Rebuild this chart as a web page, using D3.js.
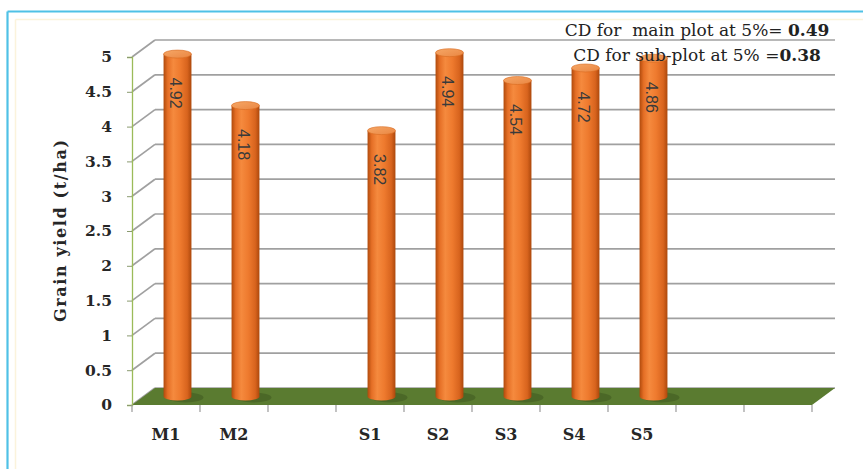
<!DOCTYPE html>
<html>
<head>
<meta charset="utf-8">
<script src="https://cdn.jsdelivr.net/npm/d3@7"></script>
<style>
  html, body { margin: 0; padding: 0; background: #ffffff; }
  svg { display: block; }
</style>
</head>
<body>
<svg id="chart" width="863" height="469"></svg>
<script>
// ---- data ----
const categories = ["M1", "M2", "", "S1", "S2", "S3", "S4", "S5", "", ""];
const yieldValues = [4.92, 4.18, null, 3.82, 4.94, 4.54, 4.72, 4.86, null, null];
const yTicks = [0, 0.5, 1, 1.5, 2, 2.5, 3, 3.5, 4, 4.5, 5];
const yTitle = "Grain yield (t/ha)";
const cdLines = [
  { text: "CD for  main plot at 5%= ", value: "0.49" },
  { text: "CD for sub-plot at 5% =", value: "0.38" }
];

// ---- layout ----
const W = 863, H = 469;
const pLeft = 132, pRight = 812, pBottom = 405, pTop = 57;
const depthX = 23, depthY = -17;

const svg = d3.select("#chart");

// frame
svg.append("line").attr("x1", 7.5).attr("y1", 11.5).attr("x2", W).attr("y2", 11.5)
  .attr("stroke", "#4fc1e6").attr("stroke-width", 2.2);
svg.append("line").attr("x1", 7.5).attr("y1", 11.5).attr("x2", 7.5).attr("y2", H)
  .attr("stroke", "#4fc1e6").attr("stroke-width", 2.2);
svg.append("line").attr("x1", 15.5).attr("y1", 19.5).attr("x2", W).attr("y2", 19.5)
  .attr("stroke", "#fbf3dc").attr("stroke-width", 1.5);
svg.append("line").attr("x1", 15.5).attr("y1", 19.5).attr("x2", 15.5).attr("y2", H)
  .attr("stroke", "#fbf3dc").attr("stroke-width", 1.5);

const idx = d3.range(categories.length);
const x = d3.scaleBand().domain(idx).range([pLeft, pRight])
  .paddingInner(0.59).paddingOuter(0.295);
const y = d3.scaleLinear().domain([0, 5]).range([pBottom, pTop]);
const step = x.step();

// gridlines (back wall + side wall diagonals)
const grid = svg.append("g");
yTicks.forEach(t => {
  const yy = y(t);
  grid.append("line")
    .attr("x1", pLeft).attr("y1", yy).attr("x2", pLeft + depthX).attr("y2", yy + depthY)
    .attr("stroke", "#a0a0a0").attr("stroke-width", 1.7);
  grid.append("line")
    .attr("x1", pLeft + depthX).attr("y1", yy + depthY)
    .attr("x2", pRight + depthX).attr("y2", yy + depthY)
    .attr("stroke", "#a0a0a0").attr("stroke-width", 1.7);
});

// floor
svg.append("path")
  .attr("d", `M${pLeft},${y(0)} L${pRight},${y(0)} L${pRight + depthX},${y(0) + depthY} L${pLeft + depthX},${y(0) + depthY} Z`)
  .attr("fill", "#5a7b30");

// front y axis
const yAxis = d3.axisLeft(y).tickValues(yTicks).tickSize(5).tickPadding(15)
  .tickFormat(d3.format("~g"));
const gy = svg.append("g").attr("transform", `translate(${pLeft},0)`).call(yAxis);
gy.select(".domain").attr("stroke", "#9bbb59").attr("stroke-width", 1.3);
gy.selectAll(".tick line").attr("stroke", "#8a9a70");
gy.selectAll(".tick text")
  .attr("font-family", "DejaVu Serif").attr("font-weight", "bold")
  .attr("font-size", 15.5).attr("fill", "#262626");

// x axis ticks at category boundaries
const boundaries = d3.range(categories.length + 1).map(i => pLeft + i * step);
svg.append("g").selectAll("line").data(boundaries).join("line")
  .attr("x1", d => d).attr("x2", d => d)
  .attr("y1", pBottom).attr("y2", pBottom + 7)
  .attr("stroke", "#9a9a9a").attr("stroke-width", 1.2);

// x axis labels
const xAxis = d3.axisBottom(x).tickSize(0).tickPadding(24)
  .tickFormat(i => categories[i]);
const gx = svg.append("g").attr("transform", `translate(0,${pBottom})`).call(xAxis);
gx.select(".domain").remove();
gx.selectAll(".tick text")
  .attr("font-family", "DejaVu Serif").attr("font-weight", "bold")
  .attr("font-size", 16).attr("fill", "#262626");

// gradients
const defs = svg.append("defs");
const gBody = defs.append("linearGradient").attr("id", "cylBody")
  .attr("x1", "0").attr("x2", "1").attr("y1", "0").attr("y2", "0");
[["0%", "#b04a0c"], ["15%", "#e56f26"], ["35%", "#f58a3e"], ["60%", "#ee7a2e"], ["85%", "#d8641e"], ["100%", "#ac480c"]]
  .forEach(([o, c]) => gBody.append("stop").attr("offset", o).attr("stop-color", c));
const gTop = defs.append("linearGradient").attr("id", "cylTop")
  .attr("x1", "0").attr("x2", "1").attr("y1", "0").attr("y2", "1");
[["0%", "#f6a766"], ["100%", "#ea8642"]]
  .forEach(([o, c]) => gTop.append("stop").attr("offset", o).attr("stop-color", c));

// cylinders
const rx = x.bandwidth() / 2, ry = 4;
const bars = svg.append("g");
idx.forEach(i => {
  const v = yieldValues[i];
  if (v == null) return;
  const cx = x(i) + rx + depthX / 2;
  const yb = y(0) + depthY / 2;
  const yt = y(v) + depthY / 2;
  bars.append("ellipse").attr("cx", cx + 8).attr("cy", yb + 1).attr("rx", rx + 4).attr("ry", ry + 1)
    .attr("fill", "#3f5a20").attr("opacity", 0.55);
  bars.append("path")
    .attr("d", `M${cx - rx},${yt} L${cx - rx},${yb} A${rx},${ry} 0 0 0 ${cx + rx},${yb} L${cx + rx},${yt} Z`)
    .attr("fill", "url(#cylBody)");
  bars.append("ellipse").attr("cx", cx).attr("cy", yt).attr("rx", rx).attr("ry", ry)
    .attr("fill", "url(#cylTop)").attr("stroke", "#d9691f").attr("stroke-width", 0.6);
  bars.append("text")
    .attr("transform", `translate(${cx - 2},${yt + 39}) rotate(90)`)
    .attr("text-anchor", "middle").attr("dy", "0.35em")
    .attr("font-family", "Liberation Sans, Arial, sans-serif")
    .attr("font-size", 16).attr("fill", "#3a3a3a")
    .text(d3.format(".2f")(v));
});

// y title
svg.append("text")
  .attr("transform", `translate(60,231) rotate(-90)`)
  .attr("text-anchor", "middle").attr("dy", "0.35em")
  .attr("font-family", "DejaVu Serif").attr("font-weight", "bold")
  .attr("font-size", 16).attr("fill", "#262626")
  .attr("textLength", 182).attr("lengthAdjust", "spacing")
  .text(yTitle);

// CD annotation
cdLines.forEach((d, k) => {
  const t = svg.append("text")
    .attr("x", 697).attr("y", 36 + k * 25)
    .attr("text-anchor", "middle")
    .style("white-space", "pre")
    .attr("font-family", "DejaVu Serif").attr("font-size", 17)
    .attr("fill", "#222");
  t.append("tspan").text(d.text);
  t.append("tspan").attr("font-weight", "bold").text(d.value);
});
</script>
</body>
</html>
